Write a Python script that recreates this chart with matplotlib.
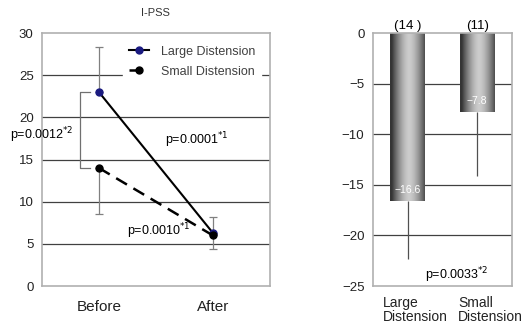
import numpy as np
import matplotlib.pyplot as plt
import matplotlib.transforms as mtrans
from matplotlib.colors import LinearSegmentedColormap

plt.rcParams['font.family'] = ['Liberation Sans', 'DejaVu Sans']

# left panel: I-PSS before/after
times = ['Before', 'After']
large_mean = [23.0, 6.3]
large_err_up = [5.4, 1.9]
small_mean = [14.0, 6.0]
small_err_down = [5.4, 1.6]

# right panel: change in I-PSS
groups = ['Large\nDistension', 'Small\nDistension']
change = [-16.6, -7.8]
change_err = [5.7, 6.3]
counts = ['(14 )', '(11)']

grid_c = '#404040'
spine_c = '#b0b0b0'


def style_axes(ax):
    for s in ax.spines.values():
        s.set_color(spine_c)
        s.set_linewidth(1.2)
    ax.tick_params(length=0, labelsize=9.5, pad=6, labelcolor='#222222')
    ax.set_axisbelow(True)


def main():
    fig = plt.figure(figsize=(5.25, 3.28), dpi=100)

    ax = fig.add_axes([0.08, 0.128, 0.434, 0.771])
    style_axes(ax)
    x = np.arange(len(times)) + 0.5
    ax.set_xlim(0, 2)
    ax.set_ylim(0, 30)
    ax.set_yticks(range(0, 31, 5))
    ax.set_xticks(x)
    ax.set_xticklabels(times, fontsize=11)
    ax.tick_params(axis='x', pad=10)
    for v in range(5, 30, 5):
        ax.axhline(v, color=grid_c, lw=0.9, zorder=0)

    ax.errorbar(x, large_mean, yerr=[[0, 0], large_err_up], fmt='none',
                ecolor='#808080', elinewidth=0.9, capsize=3, capthick=0.9, zorder=2)
    ax.errorbar(x, small_mean, yerr=[small_err_down, [0, 0]], fmt='none',
                ecolor='#808080', elinewidth=0.9, capsize=3, capthick=0.9, zorder=2)
    ax.plot(x, large_mean, '-', color='black', lw=1.5, marker='o', ms=5,
            mfc='#1a1a80', mec='#1a1a80', label='Large Distension', zorder=3)
    ax.plot(x, small_mean, '--', color='black', lw=1.8, dashes=(5, 3), marker='o',
            ms=5, mfc='black', mec='black', label='Small Distension', zorder=3)

    # bracket between groups at baseline
    bx = 0.33
    ax.plot([bx + 0.09, bx, bx, bx + 0.09], [large_mean[0], large_mean[0], small_mean[0], small_mean[0]],
            color='#707070', lw=0.9, zorder=2)
    ax.text(-0.28, 17.9, 'p=0.0012$^{*2}$', fontsize=9, va='center')
    ax.text(1.08, 17.3, 'p=0.0001$^{*1}$', fontsize=9, va='center')
    ax.text(0.75, 6.5, 'p=0.0010$^{*1}$', fontsize=9, va='center')

    leg = ax.legend(loc='upper right', bbox_to_anchor=(0.99, 1.0), frameon=True,
                    fontsize=9, handlelength=1.6, handletextpad=0.9,
                    labelspacing=0.65, borderpad=0.5)
    leg.get_frame().set_edgecolor('white')
    leg.get_frame().set_facecolor('white')
    leg.get_frame().set_alpha(1)
    for t in leg.get_texts():
        t.set_color('#404040')

    ax.set_title('I-PSS', fontsize=8, pad=12, color='#333333')

    # right panel
    ax2 = fig.add_axes([0.71, 0.128, 0.265, 0.771])
    style_axes(ax2)
    xb = np.arange(len(groups)) + 0.5
    ax2.set_yticks(range(-25, 1, 5))
    ax2.set_yticklabels([str(v).replace('-', '\u2212') for v in range(-25, 1, 5)])
    ax2.set_xticks(xb)
    ax2.set_xticklabels(groups, fontsize=10, ha='left', linespacing=1.05)
    ax2.tick_params(axis='x', pad=7)
    for v in range(-20, 0, 5):
        ax2.axhline(v, color=grid_c, lw=0.9, zorder=0)

    bars = ax2.bar(xb, change, width=0.5, color='none', edgecolor='none', zorder=2)
    grad = np.abs(np.linspace(-1, 1, 200) - 0.1)
    grad = 1 - grad ** 1.6
    cmap = LinearSegmentedColormap.from_list('g', ['#353535', '#cccccc'])
    for b in bars:
        x0 = b.get_x()
        w = b.get_width()
        y0 = b.get_y() + b.get_height()
        ax2.imshow(grad[np.newaxis, :], extent=[x0, x0 + w, y0, 0], aspect='auto',
                   cmap=cmap, vmin=0, vmax=1, zorder=2)
    ax2.set_xlim(0, 2)
    ax2.set_ylim(-25, 0)

    ax2.errorbar(xb, change, yerr=[change_err, [0, 0]], fmt='none', ecolor='#505050',
                 elinewidth=0.9, capsize=0, zorder=1)
    for xi, v, c in zip(xb, change, counts):
        ax2.text(xi, v + 0.6, str(v).replace('-', '\u2212'), color='white', fontsize=7.5,
                 ha='center', va='bottom', zorder=3)
        ax2.text(xi, 0.15, c, fontsize=9.5, ha='center', va='bottom')
    ax2.text(0.75, -23.9, 'p=0.0033$^{*2}$', fontsize=9, va='center')

    # shift category labels so they start near the bar's left edge
    for lbl, dx in zip(ax2.get_xticklabels(), [-25, -19]):
        lbl.set_transform(lbl.get_transform() + mtrans.Affine2D().translate(dx, 0))

    fig.savefig('out.png', dpi=100)


if __name__ == "__main__":
    main()
